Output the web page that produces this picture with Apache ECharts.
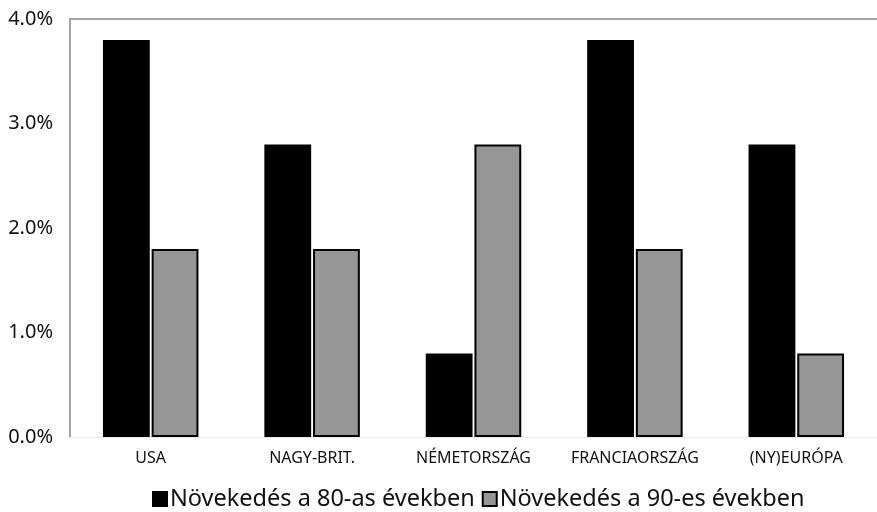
<!DOCTYPE html>
<html>
<head>
<meta charset="utf-8">
<script src="https://cdn.jsdelivr.net/npm/echarts@6/dist/echarts.min.js"></script>
<style>
  html, body { margin: 0; padding: 0; background: #fff; }
  #chart { width: 877px; height: 512px; }
</style>
</head>
<body>
<div id="chart"></div>
<script>
const categories = ['USA', 'NAGY-BRIT.', 'NÉMETORSZÁG', 'FRANCIAORSZÁG', '(NY)EURÓPA'];
const growth80s = [3.8, 2.8, 0.8, 3.8, 2.8];
const growth90s = [1.8, 1.8, 2.8, 1.8, 0.8];
const seriesNames = ['Növekedés a 80-as években', 'Növekedés a 90-es években'];

const font = '"Noto Sans", "DejaVu Sans", sans-serif';
const chart = echarts.init(document.getElementById('chart'));

chart.setOption({
  backgroundColor: '#fff',
  animation: false,
  textStyle: { fontFamily: font },
  grid: { left: 70, right: 0, top: 19, bottom: 75 },
  legend: {
    top: 482,
    left: 147,
    itemWidth: 14,
    itemHeight: 14,
    itemGap: 7,
    icon: 'rect',
    textStyle: { color: '#111', fontSize: 23.5, fontFamily: font, padding: [0, 0, 0, -2] },
    data: seriesNames
  },
  xAxis: [
    {
      type: 'category',
      data: categories,
      axisLine: { show: true, lineStyle: { color: '#ececec' } },
      axisTick: { show: false },
      axisLabel: { color: '#111', fontSize: 16, margin: 13, interval: 0 }
    },
    {
      type: 'category',
      position: 'top',
      data: categories,
      axisLine: { show: true, lineStyle: { color: '#888', width: 1.5 } },
      axisTick: { show: false },
      axisLabel: { show: false }
    }
  ],
  yAxis: {
    type: 'value',
    min: 0,
    max: 4,
    interval: 1,
    axisLine: { show: true, lineStyle: { color: '#888', width: 1.5 } },
    axisTick: { show: false },
    splitLine: { show: false },
    axisLabel: { color: '#111', fontSize: 20, margin: 17, formatter: v => v.toFixed(1) + '%' }
  },
  series: [
    {
      name: seriesNames[0],
      type: 'bar',
      data: growth80s,
      barWidth: '29%',
      barGap: '4%',
      itemStyle: { color: '#000', borderColor: '#000', borderWidth: 2 }
    },
    {
      name: seriesNames[1],
      type: 'bar',
      data: growth90s,
      barWidth: '29%',
      itemStyle: { color: '#969696', borderColor: '#000', borderWidth: 2 }
    }
  ]
});
</script>
</body>
</html>
